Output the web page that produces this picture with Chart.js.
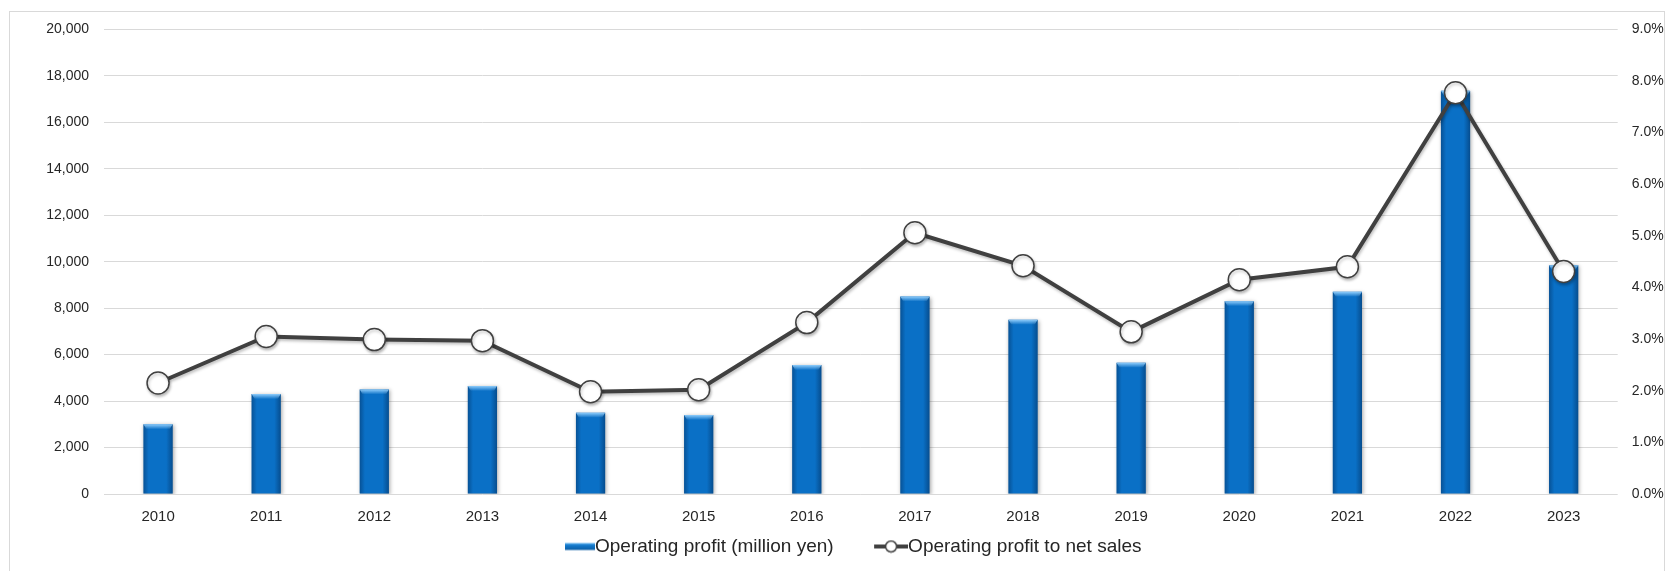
<!DOCTYPE html>
<html>
<head>
<meta charset="utf-8">
<script src="https://cdn.jsdelivr.net/npm/chart.js@4.4.1/dist/chart.umd.min.js"></script>
<style>
  html, body { margin: 0; padding: 0; background: #fff; overflow: hidden; }
  #frame { position: absolute; left: 9px; top: 11px; width: 1656px; height: 600px;
           box-sizing: border-box; border: 1px solid #d9d9d9; }
  #chart { display: block; }
</style>
</head>
<body>
<div id="frame"><canvas id="chart" width="1654" height="559"></canvas></div>
<script>
  /* data */
  var years = ['2010', '2011', '2012', '2013', '2014', '2015', '2016',
               '2017', '2018', '2019', '2020', '2021', '2022', '2023'];
  var operatingProfit = [3000, 4300, 4500, 4650, 3500, 3400, 5550,
                         8500, 7500, 5650, 8300, 8700, 17350, 9850];
  var profitToSales = [2.15, 3.05, 2.99, 2.97, 1.98, 2.02, 3.32,
                       5.06, 4.42, 3.14, 4.15, 4.40, 7.77, 4.31];
  var profitTicks = [0, 2000, 4000, 6000, 8000, 10000, 12000, 14000, 16000, 18000, 20000];
  var ratioTicks = [0, 1, 2, 3, 4, 5, 6, 7, 8, 9];
  var seriesNames = ['Operating profit (million yen)', 'Operating profit to net sales'];

  var TEXT = '#262626';
  var GRID = '#d9d9d9';
  var BAR_BLUE = '#0a70c6';
  var LINE_GREY = '#404040';

  Chart.defaults.font.family = '"Liberation Sans", Arial, sans-serif';
  Chart.defaults.color = TEXT;

  /* legend icons, graphic sits at the right end so it touches the text */
  function makeBarIcon() {
    var c = document.createElement('canvas');
    c.width = 72; c.height = 10;
    var g = c.getContext('2d');
    var grad = g.createLinearGradient(0, 1, 0, 9);
    grad.addColorStop(0, '#7cc4f6');
    grad.addColorStop(0.35, '#1279cc');
    grad.addColorStop(1, '#0a5aa0');
    g.fillStyle = grad;
    g.fillRect(42, 1.5, 30, 7);
    return c;
  }
  function makeLineIcon() {
    var c = document.createElement('canvas');
    c.width = 72; c.height = 14;
    var g = c.getContext('2d');
    g.strokeStyle = LINE_GREY;
    g.lineWidth = 4;
    g.beginPath(); g.moveTo(38, 7); g.lineTo(72, 7); g.stroke();
    g.beginPath(); g.arc(55, 7, 5.5, 0, Math.PI * 2);
    g.fillStyle = '#fff'; g.fill();
    g.lineWidth = 1.5; g.stroke();
    return c;
  }
  var legendIcons = [makeBarIcon(), makeLineIcon()];

  /* Excel-like shading: shadow under the marks, bevel on bars */
  var markShading = {
    id: 'markShading',
    beforeDatasetDraw: function (chart, args) {
      var ctx = chart.ctx;
      ctx.save();
      if (args.index === 0) {
        ctx.shadowColor = 'rgba(0,0,0,0.35)';
        ctx.shadowBlur = 4; ctx.shadowOffsetX = 1; ctx.shadowOffsetY = 1;
      } else {
        ctx.shadowColor = 'rgba(0,0,0,0.25)';
        ctx.shadowBlur = 3; ctx.shadowOffsetX = 1; ctx.shadowOffsetY = 2;
      }
    },
    afterDatasetDraw: function (chart, args) {
      var ctx = chart.ctx;
      ctx.restore();
      if (args.index !== 0) return;
      ctx.save();
      args.meta.data.forEach(function (bar) {
        var p = bar.getProps(['x', 'y', 'base', 'width'], true);
        var l = p.x - p.width / 2, r = p.x + p.width / 2, t = p.y, b = p.base;
        var side = ctx.createLinearGradient(l, 0, r, 0);
        side.addColorStop(0, 'rgba(0,25,60,0.35)');
        side.addColorStop(0.18, 'rgba(0,25,60,0)');
        side.addColorStop(0.78, 'rgba(0,25,60,0)');
        side.addColorStop(1, 'rgba(0,25,60,0.4)');
        ctx.fillStyle = side;
        ctx.fillRect(l, t, r - l, b - t);
        var cap = 5;
        var top = ctx.createLinearGradient(0, t, 0, t + cap);
        top.addColorStop(0, 'rgba(150,210,255,0.95)');
        top.addColorStop(1, 'rgba(150,210,255,0)');
        ctx.fillStyle = top;
        ctx.beginPath();
        ctx.moveTo(l, t); ctx.lineTo(r, t);
        ctx.lineTo(r - 3, t + cap); ctx.lineTo(l + 3, t + cap);
        ctx.closePath(); ctx.fill();
      });
      ctx.restore();
    }
  };

  new Chart(document.getElementById('chart'), {
    type: 'bar',
    data: {
      labels: years,
      datasets: [{
        type: 'bar',
        label: seriesNames[0],
        data: operatingProfit,
        yAxisID: 'y',
        backgroundColor: BAR_BLUE,
        borderWidth: 0,
        barPercentage: 0.27,
        categoryPercentage: 1,
        order: 1
      }, {
        type: 'line',
        label: seriesNames[1],
        data: profitToSales,
        yAxisID: 'y1',
        borderColor: LINE_GREY,
        borderWidth: 4,
        tension: 0,
        pointRadius: 11,
        pointHoverRadius: 11,
        pointBackgroundColor: '#ffffff',
        pointBorderColor: LINE_GREY,
        pointBorderWidth: 1.5,
        order: 0
      }]
    },
    options: {
      responsive: false,
      animation: false,
      layout: { padding: { top: 17.3, bottom: 5, left: 0, right: 0 } },
      plugins: {
        tooltip: { enabled: false },
        legend: {
          position: 'bottom',
          labels: {
            usePointStyle: true,
            pointStyleWidth: 53,
            padding: 12,
            color: TEXT,
            font: { size: 19 },
            generateLabels: function (chart) {
              var items = Chart.defaults.plugins.legend.labels.generateLabels(chart);
              items.sort(function (a, b) { return a.datasetIndex - b.datasetIndex; });
              items.forEach(function (it) {
                it.pointStyle = legendIcons[it.datasetIndex];
                it.fontColor = TEXT;
              });
              return items;
            }
          }
        }
      },
      scales: {
        x: {
          grid: { display: false, drawTicks: false },
          border: { display: false },
          ticks: { font: { size: 15 }, color: TEXT, padding: 14 },
          afterFit: function (s) { s.height = 31; }
        },
        y: {
          position: 'left',
          min: 0, max: 20000,
          afterBuildTicks: function (s) {
            s.ticks = profitTicks.map(function (v) { return { value: v }; });
          },
          // label gap made with an invisible tick mark, so it does not pad the top
          grid: { color: GRID, lineWidth: 1, drawTicks: true, tickLength: 15, tickColor: 'rgba(0,0,0,0)' },
          border: { display: false },
          ticks: {
            font: { size: 14 }, color: TEXT, padding: 0,
            callback: function (v) { return Number(v).toLocaleString('en-US'); }
          },
          afterFit: function (s) { s.width = 94; }
        },
        y1: {
          position: 'right',
          min: 0, max: 9,
          afterBuildTicks: function (s) {
            s.ticks = ratioTicks.map(function (v) { return { value: v }; });
          },
          grid: { display: false, drawTicks: true, tickLength: 14 },
          border: { display: false },
          ticks: {
            font: { size: 14 }, color: TEXT, padding: 0,
            callback: function (v) { return Number(v).toFixed(1) + '%'; }
          },
          afterFit: function (s) { s.width = 46.3; }
        }
      }
    },
    plugins: [markShading]
  });
</script>
</body>
</html>
